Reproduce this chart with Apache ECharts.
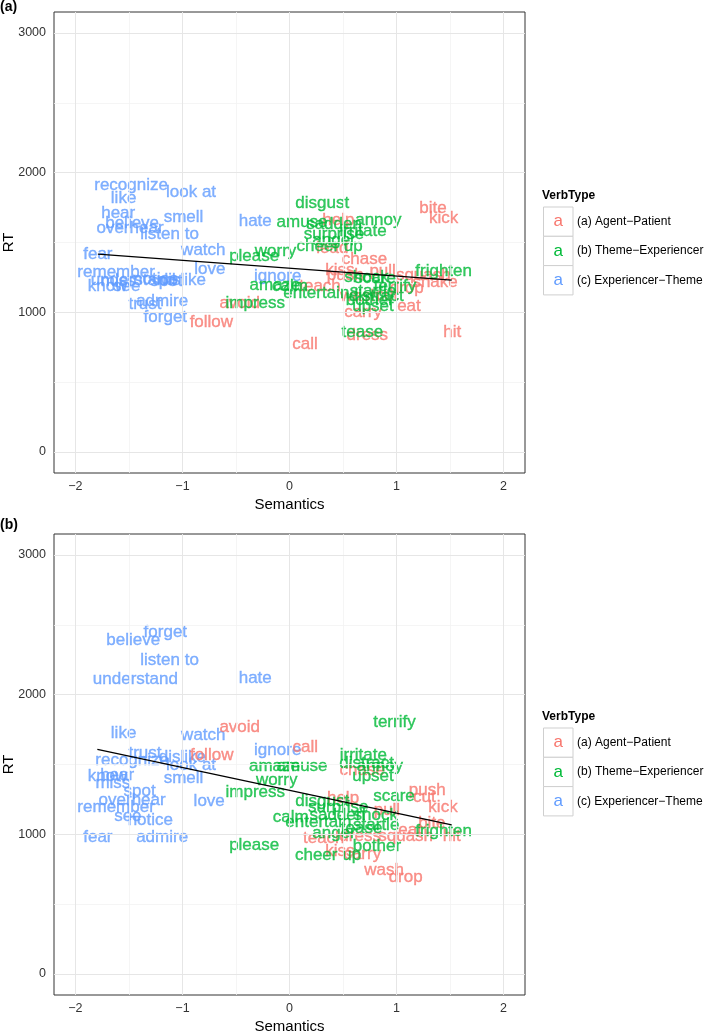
<!DOCTYPE html>
<html><head><meta charset="utf-8">
<script src="https://cdn.jsdelivr.net/npm/echarts@6/dist/echarts.min.js"></script>
<style>html,body{margin:0;padding:0;background:#fff}#c{width:709px;height:1035px}</style>
</head><body><div id="c"></div>
<script>
// ---------- data ----------
const xTicks = [-2, -1, 0, 1, 2];
const yTicks = [0, 1000, 2000, 3000];
const xMinor = [-1.5, -0.5, 0.5, 1.5];
const yMinor = [500, 1500, 2500];
const typeNames = ['(a) Agent\u2212Patient', '(b) Theme\u2212Experiencer', '(c) Experiencer\u2212Theme'];

// Panel (a)
const aRedWords = ['bite','kick','help','lead','chase','kiss','pull','push','squash','shake','teach','drop','cut','wash','eat','carry','dress','hit','call','avoid','follow'];
const aRedX     = [1.34,1.44,0.456,0.40,0.70,0.47,0.87,0.52,1.25,1.36,0.285,1.095,0.91,0.66,1.116,0.687,0.727,1.52,0.145,-0.465,-0.73];
const aRedY     = [1744,1673,1661,1458,1379,1298,1291,1267,1267,1212,1183,1172,1124,1112,1040,997,837,854,771,1064,926];

const aGreenWords = ['disgust','amuse','annoy','sadden','irritate','surprise','anger','cheer up','worry','please','frighten','shock','scare','amaze','calm','entertain','impress','terrify','startle','distract','bother','upset','tease'];
const aGreenX     = [0.306,0.117,0.83,0.416,0.687,0.416,0.416,0.375,-0.13,-0.33,1.44,0.72,0.80,-0.135,0.005,0.25,-0.32,0.985,0.78,0.81,0.75,0.78,0.68];
const aGreenY     = [1780,1641,1661,1632,1582,1560,1518,1470,1434,1398,1296,1250,1245,1195,1188,1136,1064,1183,1150,1112,1085,1040,854];

const aBlueWords = ['recognize','like','look at','hear','believe','overhear','smell','listen to','hate','fear','watch','love','remember','understand','miss','notice','spot','dislike','know','see','trust','admire','forget','ignore'];
const aBlueX     = [-1.48,-1.55,-0.92,-1.60,-1.47,-1.49,-0.99,-1.12,-0.32,-1.79,-0.805,-0.745,-1.62,-1.46,-1.60,-1.25,-1.15,-1.00,-1.70,-1.52,-1.35,-1.19,-1.16,-0.11];
const aBlueY     = [1911,1816,1859,1708,1637,1601,1680,1560,1649,1417,1446,1308,1286,1231,1225,1235,1225,1226,1183,1183,1059,1076,964,1255];

const aFitX = [-1.79, 1.515];
const aFitY = [1417, 1231];

// Panel (b)
const bRedWords = ['avoid','follow','call','chase','push','help','cut','kick','pull','bite','eat','hit','teach','dress','squash','kiss','carry','wash','drop'];
const bRedX     = [-0.465,-0.727,0.148,0.68,1.287,0.50,1.26,1.434,0.91,1.33,1.126,1.515,0.32,0.66,1.085,0.47,0.68,0.883,1.085];
const bRedY     = [1763,1568,1623,1460,1312,1258,1265,1197,1174,1078,1031,983,971,983,988,875,857,744,689];

const bGreenWords = ['terrify','irritate','distract','annoy','upset','amaze','amuse','worry','impress','scare','disgust','surprise','sadden','shock','calm','entertain','startle','tease','anger','frighten','bother','please','cheer up'];
const bGreenX     = [0.98,0.69,0.72,0.845,0.78,-0.14,0.117,-0.12,-0.32,0.976,0.306,0.456,0.447,0.805,0.011,0.27,0.81,0.674,0.416,1.44,0.817,-0.33,0.36];
const bGreenY     = [1799,1568,1508,1484,1412,1489,1489,1384,1298,1269,1240,1193,1138,1138,1122,1083,1067,1043,1007,1019,911,923,852];

const bBlueWords = ['forget','believe','listen to','understand','hate','like','watch','ignore','trust','dislike','recognize','look at','hear','know','smell','miss','spot','overhear','love','remember','see','notice','fear','admire'];
const bBlueX     = [-1.16,-1.46,-1.12,-1.44,-0.32,-1.55,-0.805,-0.11,-1.35,-1.00,-1.47,-0.92,-1.61,-1.70,-0.99,-1.65,-1.40,-1.47,-0.75,-1.62,-1.51,-1.30,-1.79,-1.19];
const bBlueY     = [2443,2391,2248,2109,2114,1723,1706,1603,1580,1551,1532,1491,1420,1412,1401,1365,1305,1245,1238,1197,1126,1102,978,978];

const bFitX = [-1.795, 1.515];
const bFitY = [1608, 1067];

// ---------- styling ----------
const FONT = '"Liberation Sans", Arial, Helvetica, sans-serif';
const RED = '#F8766D', GREEN = '#00BA38', BLUE = '#619CFF';
const GRID_TOPS = [12, 534];
const GRID_LEFT = 54, GRID_W = 471, GRID_H = 461;

function pts(words, xs, ys) {
  return words.map((w, i) => ({ name: w, value: [xs[i], ys[i]] }));
}
function textSeries(gi, words, xs, ys, color) {
  return {
    type: 'scatter', xAxisIndex: gi, yAxisIndex: gi,
    symbolSize: 1, itemStyle: { color: 'rgba(0,0,0,0)' },
    silent: true, animation: false,
    label: { show: true, position: 'inside', formatter: '{b}', color: color,
             fontSize: 17, fontFamily: FONT,
             textBorderColor: color, textBorderWidth: 0.35 },
    labelLayout: { hideOverlap: false },
    data: pts(words, xs, ys), z: 3
  };
}
function gridLineSeries(gi) {
  const major = { color: '#e6e6e6', width: 1, type: 'solid' };
  const minor = { color: '#f3f3f3', width: 0.8, type: 'solid' };
  return {
    type: 'line', xAxisIndex: gi, yAxisIndex: gi, data: [], silent: true, z: 1,
    animation: false,
    markLine: {
      silent: true, symbol: ['none', 'none'], label: { show: false }, animation: false,
      data: [
        ...xMinor.map(v => ({ xAxis: v, lineStyle: minor })),
        ...yMinor.map(v => ({ yAxis: v, lineStyle: minor })),
        ...xTicks.map(v => ({ xAxis: v, lineStyle: major })),
        ...yTicks.map(v => ({ yAxis: v, lineStyle: major }))
      ]
    }
  };
}
function fitSeries(gi, xs, ys) {
  return {
    type: 'line', xAxisIndex: gi, yAxisIndex: gi, symbol: 'none', silent: true,
    animation: false, z: 5,
    lineStyle: { color: '#000', width: 1.3 },
    data: xs.map((x, i) => [x, ys[i]])
  };
}
function xAxis(gi) {
  return {
    type: 'value', gridIndex: gi, min: -2.2, max: 2.2,
    name: 'Semantics', nameLocation: 'middle', nameGap: 24,
    nameTextStyle: { fontSize: 15, color: '#000', fontFamily: FONT },
    axisLine: { show: false },
    axisTick: { show: true, length: 4, customValues: xTicks, lineStyle: { color: '#333', width: 1 } },
    axisLabel: { customValues: xTicks, fontSize: 12.5, color: '#333', margin: 7, fontFamily: FONT,
                 formatter: v => (v < 0 ? '\u2212' + Math.abs(v) : String(v)) },
    splitLine: { show: false }
  };
}
function yAxis(gi) {
  return {
    type: 'value', gridIndex: gi, min: -150, max: 3150,
    axisLine: { show: false },
    axisTick: { show: true, length: 5, customValues: yTicks, lineStyle: { color: '#333', width: 1 } },
    axisLabel: { customValues: yTicks, fontSize: 12.5, color: '#333', margin: 8, fontFamily: FONT,
                 formatter: v => String(v) },
    splitLine: { show: false }
  };
}
function legendGraphics(titleY) {
  const els = [];
  els.push({ type: 'text', left: 542, top: titleY - 7,
    style: { text: 'VerbType', font: 'bold 12px ' + FONT, fill: '#000' } });
  const colors = [RED, GREEN, BLUE];
  for (let i = 0; i < 3; i++) {
    const by = titleY + 10 + i * 29.3;
    els.push({ type: 'rect', shape: { x: 543.5, y: by, width: 29.5, height: 29.3 },
      style: { fill: '#fff', stroke: '#cfcfcf', lineWidth: 1 } });
    els.push({ type: 'text', x: 558.25, y: by + 14.6,
      style: { text: 'a', font: '17px ' + FONT, fill: colors[i], align: 'center', verticalAlign: 'middle' } });
    els.push({ type: 'text', x: 577, y: by + 14.6,
      style: { text: typeNames[i], font: '12px ' + FONT, fill: '#000', align: 'left', verticalAlign: 'middle' } });
  }
  return els;
}
function yTitle(cy) {
  return { type: 'text', x: 9, y: cy, rotation: Math.PI / 2,
    style: { text: 'RT', font: '15px ' + FONT, fill: '#000', align: 'center', verticalAlign: 'middle' } };
}

const chart = echarts.init(document.getElementById('c'), null, { renderer: 'canvas' });
chart.setOption({
  animation: false,
  backgroundColor: '#fff',
  grid: GRID_TOPS.map(t => ({ left: GRID_LEFT, top: t, width: GRID_W, height: GRID_H,
    show: true, borderColor: '#333', borderWidth: 1, backgroundColor: '#fff',
    containLabel: false, outerBoundsMode: 'none' })),
  xAxis: [xAxis(0), xAxis(1)],
  yAxis: [yAxis(0), yAxis(1)],
  series: [
    gridLineSeries(0),
    textSeries(0, aBlueWords, aBlueX, aBlueY, BLUE),
    textSeries(0, aRedWords, aRedX, aRedY, RED),
    textSeries(0, aGreenWords, aGreenX, aGreenY, GREEN),
    fitSeries(0, aFitX, aFitY),
    gridLineSeries(1),
    textSeries(1, bBlueWords, bBlueX, bBlueY, BLUE),
    textSeries(1, bRedWords, bRedX, bRedY, RED),
    textSeries(1, bGreenWords, bGreenX, bGreenY, GREEN),
    fitSeries(1, bFitX, bFitY)
  ],
  graphic: [
    { type: 'text', left: 0, top: 0, style: { text: '(a)', font: 'bold 14px ' + FONT, fill: '#000' } },
    { type: 'text', left: 0, top: 518, style: { text: '(b)', font: 'bold 14px ' + FONT, fill: '#000' } },
    yTitle(GRID_TOPS[0] + GRID_H / 2),
    yTitle(GRID_TOPS[1] + GRID_H / 2),
    ...legendGraphics(197),
    ...legendGraphics(718)
  ]
});
</script></body></html>
